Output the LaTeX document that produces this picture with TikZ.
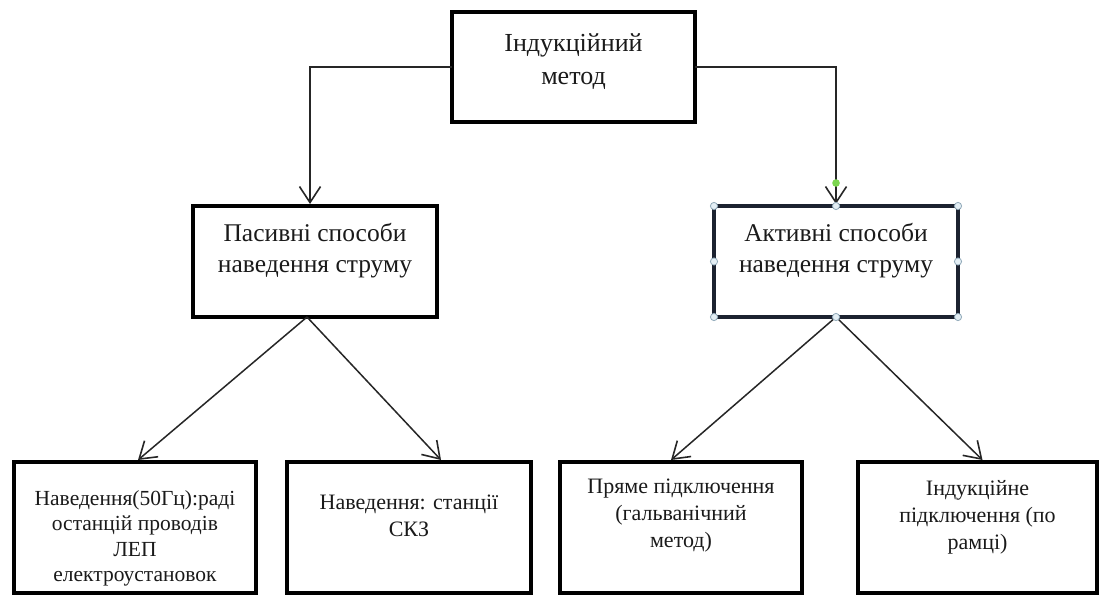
\documentclass[tikz,border=0pt]{standalone}
\usepackage{fontspec}
\setmainfont{Liberation Serif}
\usetikzlibrary{arrows.meta,calc}
\definecolor{boxc}{HTML}{000000}
\definecolor{actc}{HTML}{1C2230}
\definecolor{linec}{HTML}{262626}
\definecolor{txt}{HTML}{1A1A1A}
\definecolor{hfill}{HTML}{E4EFF5}
\definecolor{hdraw}{HTML}{8FA8B8}
\definecolor{gdot}{HTML}{7CD64F}
\begin{document}
\begin{tikzpicture}[x=1pt,y=-1pt,
  box/.style={draw=boxc,line width=3.8pt,inner sep=0pt,outer sep=0pt,rectangle,fill=white},
  lbl/.style={align=center,anchor=north,inner sep=0pt,text=txt},
  bigtxt/.style={font=\fontsize{26}{33}\selectfont},
  midtxt/.style={font=\fontsize{25.5}{31}\selectfont},
  smalltxt/.style={font=\fontsize{22}{27}\selectfont},
  conn/.style={draw=linec,line width=1.5pt,-{Straight Barb[length=16pt,width=21pt,line width=1.6pt]}},
  handle/.style={fill=hfill,draw=hdraw,line width=0.8pt}]
\useasboundingbox (0,0) rectangle (1099,595);
\fill[white] (0,0) rectangle (1099,595);

% boxes
\node[box,minimum width=243pt,minimum height=110pt] (top) at (573.5,67) {};
\node[box,minimum width=244pt,minimum height=111pt] (passive) at (315,261.5) {};
\node[box,draw=actc,minimum width=244pt,minimum height=111pt] (active) at (836,261.5) {};
\node[box,minimum width=242pt,minimum height=131pt] (b1) at (135,527.5) {};
\node[box,minimum width=244pt,minimum height=131pt] (b2) at (409,527.5) {};
\node[box,minimum width=242pt,minimum height=131pt] (b3) at (681,527.5) {};
\node[box,minimum width=239pt,minimum height=131pt] (b4) at (977.5,527.5) {};

% labels
\node[lbl,bigtxt] (ttop) at (573.5,33) {Індукційний\\метод};
\node[lbl,midtxt] (tpassive) at (315,223) {Пасивні способи\\наведення струму};
\node[lbl,midtxt] (tactive) at (836,223) {Активні способи\\наведення струму};
\node[lbl,font=\fontsize{21.5}{25.5}\selectfont] (tb1) at (135,490) {Наведення(50Гц):раді\\останцій проводів\\ЛЕП\\електроустановок};
\node[lbl,smalltxt] (tb2) at (409,495) {Наведення: станції\\СКЗ};
\node[lbl,smalltxt] (tb3) at (681,479) {Пряме підключення\\(гальванічний\\метод)};
\node[lbl,smalltxt] (tb4) at (977.5,480) {Індукційне\\підключення (по\\рамці)};

% connectors
\draw[conn] (top.west) -| ([xshift=-5pt,yshift=2pt]passive.north);
\draw[conn] (top.east) -| ([yshift=2pt]active.north);
\draw[conn] ([xshift=-8pt]passive.south) -- ([xshift=3pt,yshift=2pt]b1.north);
\draw[conn] ([xshift=-8pt]passive.south) -- ([xshift=32pt,yshift=2pt]b2.north);
\draw[conn] (active.south) -- ([xshift=-10pt,yshift=2pt]b3.north);
\draw[conn] (active.south) -- ([xshift=5pt,yshift=2pt]b4.north);

% selection handles on the active box
\foreach \a in {north west,north,north east,east,south east,south,south west,west}
  \draw[handle] (active.\a) circle[radius=3.6pt];
\fill[gdot] ($(active.north)+(0,-23)$) circle[radius=3.8pt];
\end{tikzpicture}
\end{document}
